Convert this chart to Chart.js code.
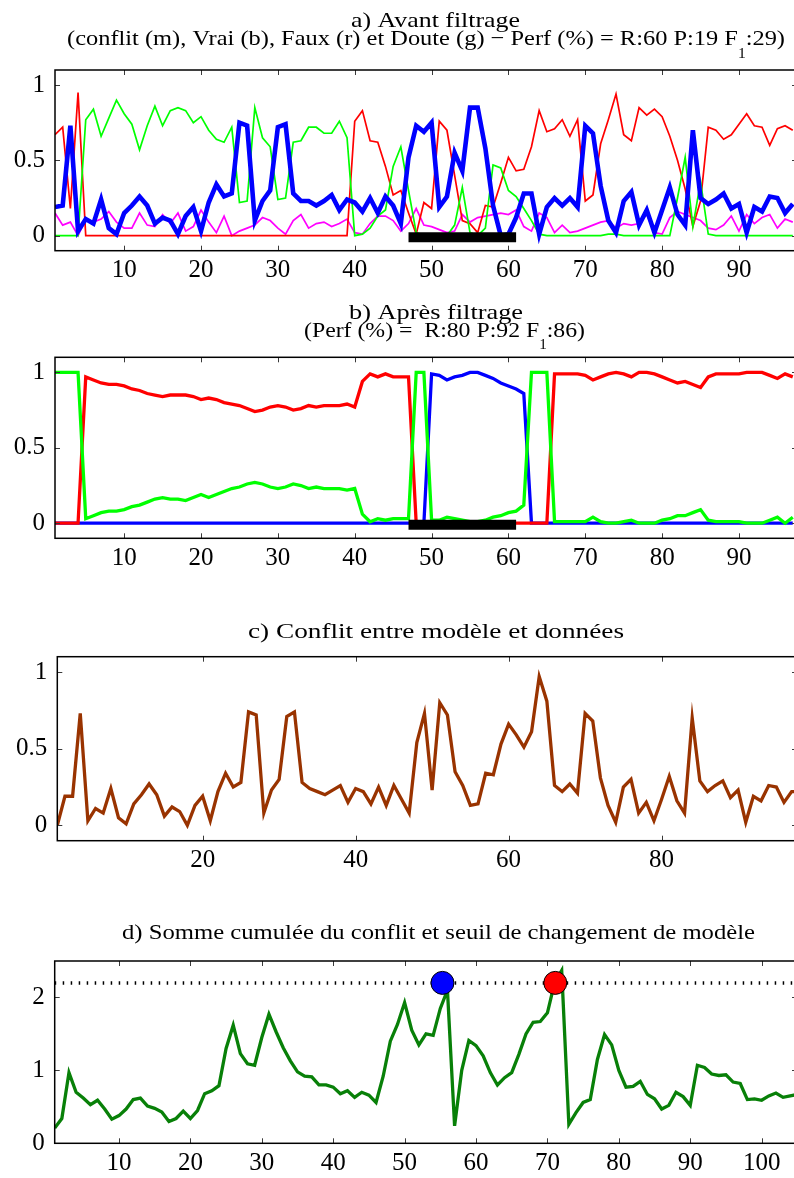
<!DOCTYPE html>
<html><head><meta charset="utf-8">
<script src="https://cdn.jsdelivr.net/npm/chart.js@4.4.1/dist/chart.umd.min.js"></script>
<style>
html,body{margin:0;padding:0;background:#fff;overflow:hidden;width:794px;height:1178px;}
#wrap{position:relative;width:794px;height:1178px;overflow:hidden;background:#fff;}
canvas{position:absolute;left:0;}
</style></head><body><div id="wrap">
<canvas id="ca" width="800" height="300" style="top:0px;width:800px;height:300px"></canvas>
<canvas id="cb" width="800" height="290" style="top:300px;width:800px;height:290px"></canvas>
<canvas id="cc" width="800" height="295" style="top:590px;width:800px;height:295px"></canvas>
<canvas id="cd" width="800" height="293" style="top:885px;width:800px;height:293px"></canvas>
</div>
<script>
// ---------- DATA ----------
// Panel a) Avant filtrage (x = 1..97)
const blueA = [0.19,0.20,0.73,0.03,0.11,0.08,0.24,0.05,0.01,0.15,0.20,0.26,0.20,0.08,0.12,0.10,0.01,0.13,0.19,0.03,
  0.22,0.34,0.26,0.28,0.75,0.73,0.10,0.23,0.30,0.72,0.74,0.28,0.23,0.23,0.20,0.23,0.27,0.17,0.24,0.22,
  0.16,0.25,0.15,0.26,0.20,0.08,0.52,0.73,0.69,0.75,0.19,0.26,0.55,0.43,0.85,0.85,0.58,0.20,0.00,0.01,
  0.12,0.28,0.28,0.01,0.19,0.25,0.20,0.25,0.19,0.73,0.68,0.33,0.10,0.02,0.23,0.29,0.07,0.17,0.02,0.17,
  0.32,0.14,0.07,0.70,0.25,0.21,0.24,0.28,0.18,0.21,0.02,0.19,0.16,0.26,0.25,0.15,0.21];
const redA = [0.67,0.72,0.18,0.95,0,0,0,0,0,0,0,0,0,0,0,0,0,0,0,0,
  0,0,0,0,0,0,0,0,0,0,0,0,0,0,0,0,0,0,0,0.76,
  0.83,0.63,0.62,0.46,0.27,0.30,0.15,0.01,0.22,0.18,0.76,0.70,0.40,0.10,0.08,0.02,0.20,0.19,0.35,0.52,
  0.43,0.44,0.59,0.83,0.69,0.71,0.77,0.66,0.77,0.23,0.27,0.61,0.77,0.94,0.67,0.63,0.85,0.80,0.84,0.79,
  0.66,0.50,0.31,0.06,0.23,0.72,0.70,0.64,0.67,0.74,0.81,0.73,0.72,0.60,0.71,0.73,0.70];
const greenA = [0,0,0,0,0.77,0.84,0.66,0.78,0.90,0.81,0.74,0.57,0.73,0.86,0.73,0.83,0.85,0.83,0.75,0.79,
  0.70,0.64,0.62,0.72,0.22,0.23,0.85,0.65,0.59,0.24,0.25,0.62,0.63,0.72,0.72,0.68,0.68,0.76,0.65,0.00,
  0.01,0.05,0.13,0.17,0.46,0.59,0.30,0.02,0,0,0,0,0.07,0.32,0.02,0,0.05,0.47,0.45,0.30,
  0.26,0.18,0.10,0.01,0,0,0,0,0,0,0,0,0.01,0.01,0,0,0,0,0,0,
  0,0.25,0.52,0.06,0.36,0.01,0,0,0,0,0,0,0,0,0,0,0];
const magentaA = [0.15,0.07,0.09,0.00,0.11,0.09,0.11,0.16,0.09,0.05,0.05,0.15,0.07,0.06,0.14,0.08,0.15,0.03,0.06,0.17,
  0.09,0.02,0.13,0.00,0.03,0.05,0.07,0.12,0.10,0.05,0.01,0.10,0.14,0.05,0.08,0.09,0.06,0.08,0.11,0.02,
  0.01,0.08,0.13,0.13,0.10,0.03,0.08,0.18,0.07,0.06,0.04,0.02,0.03,0.14,0.09,0.12,0.13,0.14,0.15,0.14,
  0.17,0.06,0.03,0.15,0.12,0.02,0.07,0.02,0.03,0.05,0.07,0.09,0.10,0.05,0.08,0.07,0.08,0.14,0.02,0.01,
  0.12,0.16,0.14,0.12,0.10,0.05,0.04,0.07,0.13,0.03,0.14,0.08,0.12,0.14,0.05,0.11,0.09];
// Reference segment (black bar)
const segX = [47, 61];
const segY = [-0.01, -0.01];

// Panel b) Après filtrage
const redB = [0,0,0,0,0.97,0.95,0.93,0.92,0.92,0.91,0.89,0.88,0.86,0.85,0.84,0.85,0.85,0.85,0.84,0.82,
  0.83,0.82,0.80,0.79,0.78,0.76,0.74,0.75,0.77,0.78,0.77,0.75,0.76,0.78,0.77,0.78,0.78,0.78,0.79,0.77,
  0.94,0.99,0.97,0.99,0.97,0.97,0.97,0,0,0,0,0,0,0,0,0,0,0,0,0,
  0,0,0,0,0,0.99,0.99,0.99,0.99,0.98,0.95,0.97,0.99,1.00,0.99,0.97,1.00,1.00,0.99,0.97,
  0.95,0.93,0.94,0.92,0.90,0.97,0.99,0.99,0.99,0.99,1.00,1.00,1.00,0.98,0.96,0.99,0.97];
const greenB = [1,1,1,1,0.03,0.05,0.07,0.08,0.08,0.09,0.11,0.12,0.14,0.16,0.17,0.16,0.16,0.15,0.17,0.19,
  0.17,0.19,0.21,0.23,0.24,0.26,0.27,0.26,0.24,0.23,0.24,0.26,0.25,0.23,0.24,0.23,0.23,0.23,0.22,0.23,
  0.06,0.01,0.03,0.02,0.03,0.03,0.03,1,1,0.02,0.02,0.04,0.03,0.02,0.01,0.01,0.02,0.04,0.05,0.07,
  0.08,0.12,1,1,1,0.01,0.01,0.01,0.01,0.01,0.04,0.01,0,0,0.01,0.02,0,0,0,0.02,
  0.03,0.05,0.05,0.07,0.09,0.02,0.01,0.01,0.01,0.01,0,0,0,0.02,0.04,0,0.04];
const blueB = [0,0,0,0,0,0,0,0,0,0,0,0,0,0,0,0,0,0,0,0,
  0,0,0,0,0,0,0,0,0,0,0,0,0,0,0,0,0,0,0,0,
  0,0,0,0,0,0,0,0,0,0.99,0.98,0.95,0.97,0.98,1.00,1.00,0.98,0.96,0.93,0.91,
  0.89,0.86,0,0,0,0,0,0,0,0,0,0,0,0,0,0,0,0,0,0,
  0,0,0,0,0,0,0,0,0,0,0,0,0,0,0,0,0];

// Panel c) Conflit entre modèle et données
const conflictC = [0.00,0.19,0.19,0.73,0.03,0.11,0.08,0.24,0.05,0.01,0.14,0.20,0.27,0.20,0.06,0.12,0.09,0.00,0.13,0.19,
  0.03,0.22,0.34,0.25,0.28,0.74,0.72,0.08,0.23,0.30,0.71,0.74,0.28,0.24,0.22,0.20,0.23,0.26,0.15,0.24,
  0.22,0.14,0.25,0.13,0.26,0.17,0.08,0.54,0.73,0.23,0.80,0.72,0.35,0.26,0.13,0.14,0.34,0.33,0.53,0.66,
  0.59,0.51,0.61,0.97,0.81,0.26,0.22,0.27,0.21,0.73,0.68,0.31,0.13,0.02,0.25,0.30,0.08,0.15,0.03,0.17,
  0.32,0.16,0.08,0.70,0.29,0.22,0.26,0.29,0.18,0.23,0.02,0.19,0.16,0.26,0.25,0.15,0.22,0.22];

// Panel d) Somme cumulée du conflit
const cumD = [0.21,0.34,0.97,0.70,0.62,0.53,0.59,0.47,0.33,0.38,0.47,0.60,0.62,0.51,0.48,0.43,0.30,0.34,0.44,0.34,
  0.45,0.68,0.72,0.79,1.30,1.62,1.23,1.09,1.07,1.45,1.77,1.53,1.31,1.13,0.98,0.92,0.91,0.80,0.80,0.77,
  0.68,0.72,0.63,0.70,0.66,0.56,0.92,1.40,1.63,1.93,1.55,1.35,1.50,1.48,1.85,2.10,0.24,1.00,1.41,1.34,
  1.20,0.97,0.80,0.90,0.97,1.22,1.50,1.66,1.67,1.79,2.20,2.37,0.26,0.42,0.56,0.60,1.15,1.49,1.35,1.00,
  0.77,0.78,0.85,0.67,0.61,0.47,0.52,0.70,0.64,0.52,1.07,1.04,0.95,0.93,0.94,0.84,0.82,0.60,0.61,0.59,
  0.65,0.69,0.63,0.65,0.67];
const threshX = [1, 106];
const threshY = [2.2, 2.2];
const changeX = [55.3, 71.1];
const changeY = [2.2, 2.2];
const changeColors = ['#0000ff', '#ff0000'];

// Tick values / labels
const xTicksAB = [10,20,30,40,50,60,70,80,90];
const xTicksC = [20,40,60,80];
const xTicksD = [10,20,30,40,50,60,70,80,90,100];
const yTicks01 = [0,0.5,1];
const yLabels01 = ['0','0.5','1'];
const yTicksD = [0,1,2];
const yLabelsD = ['0','1','2'];

// ---------- helpers ----------
const FAMILY = "'Liberation Serif','DejaVu Serif',serif";
const idx = arr => arr.map((v,i)=>({x:i+1, y:v}));
const pair = (xs, ys) => xs.map((x,i)=>({x:x, y:ys[i]}));

const framePlugin = {
  id: 'frame',
  afterDraw(chart) {
    const ctx = chart.ctx, a = chart.chartArea, sx = chart.scales.x, sy = chart.scales.y;
    ctx.save();
    ctx.strokeStyle = '#3a3a3a'; ctx.lineWidth = 1;
    ctx.beginPath();
    sx.ticks.forEach(t => {
      const p = Math.round(sx.getPixelForValue(t.value)) + 0.5;
      ctx.moveTo(p, a.bottom); ctx.lineTo(p, a.bottom - 5);
      ctx.moveTo(p, a.top); ctx.lineTo(p, a.top + 5);
    });
    sy.ticks.forEach(t => {
      const p = Math.round(sy.getPixelForValue(t.value)) + 0.5;
      ctx.moveTo(a.left, p); ctx.lineTo(a.left + 5, p);
      ctx.moveTo(a.right, p); ctx.lineTo(a.right - 5, p);
    });
    ctx.stroke();
    ctx.strokeStyle = '#000'; ctx.lineWidth = 1.5;
    ctx.strokeRect(a.left, a.top, a.right - a.left, a.bottom - a.top);
    ctx.restore();
  }
};

const titlePlugin = {
  id: 'ptitle',
  afterDraw(chart, args, opts) {
    const ctx = chart.ctx;
    const size = opts.size || 22, subSize = opts.subSize || 14, subDrop = opts.subDrop || 12.5;
    (opts.lines || []).forEach(line => {
      ctx.save();
      let total = 0;
      const parts = line.parts.map(p => {
        ctx.font = (p.sub ? subSize : size) + 'px ' + FAMILY;
        const w = ctx.measureText(p.t).width; total += w;
        return {t: p.t, sub: p.sub, w: w};
      });
      const k = line.width / total;
      ctx.translate(line.cx - line.width / 2, line.y);
      ctx.scale(k, 1);
      ctx.fillStyle = '#000'; ctx.textBaseline = 'alphabetic'; ctx.textAlign = 'left';
      let xx = 0;
      parts.forEach(p => {
        ctx.font = (p.sub ? subSize : size) + 'px ' + FAMILY;
        ctx.fillText(p.t, xx, p.sub ? subDrop : 0);
        xx += p.w;
      });
      ctx.restore();
    });
  }
};

function lineDs(data, color, width, extra) {
  return Object.assign({data: data, borderColor: color, backgroundColor: color, borderWidth: width,
    pointRadius: 0, tension: 0, fill: false, borderJoinStyle: 'miter'}, extra || {});
}

function noPad(s) { s.paddingLeft = 0; s.paddingRight = 0; s.paddingTop = 0; s.paddingBottom = 0; }

function makeChart(id, g) {
  return new Chart(document.getElementById(id), {
    type: 'line',
    data: {datasets: g.datasets},
    options: {
      responsive: false, maintainAspectRatio: false, animation: false, devicePixelRatio: 1,
      layout: {autoPadding: false, padding: {top: g.padTop, right: 3, left: 0, bottom: 0}},
      plugins: {legend: {display: false}, tooltip: {enabled: false}, title: {display: false},
        ptitle: {lines: g.titles, size: 22, subSize: 14, subDrop: 12.5}},
      scales: {
        x: {type: 'linear', min: g.xMin, max: g.xMax,
          afterBuildTicks: s => { s.ticks = g.xTicks.map(v => ({value: v})); },
          afterFit: s => { s.height = g.bottomH; noPad(s); },
          grid: {display: false, drawTicks: false}, border: {display: false},
          ticks: {padding: 5, color: '#000', font: {family: FAMILY, size: 25}, maxRotation: 0, autoSkip: false,
            callback: v => String(v)}},
        y: {type: 'linear', min: g.yMin, max: g.yMax,
          afterBuildTicks: s => { s.ticks = g.yTicks.map(v => ({value: v})); },
          afterFit: s => { s.width = g.leftW; noPad(s); },
          grid: {display: false, drawTicks: false}, border: {display: false},
          ticks: {padding: 10, color: '#000', font: {family: FAMILY, size: 25}, autoSkip: false,
            callback: (v, i) => g.yLabels[i]}}
      }
    },
    plugins: [framePlugin, titlePlugin]
  });
}

// Panel a
makeChart('ca', {
  padTop: 70, leftW: 55, bottomH: 49.3, xMin: 1, xMax: 97.55, yMin: -0.1, yMax: 1.1,
  xTicks: xTicksAB, yTicks: yTicks01, yLabels: yLabels01,
  titles: [
    {cx: 435.5, y: 27.3, width: 169, parts: [{t: 'a) Avant filtrage'}]},
    {cx: 426, y: 45, width: 718, parts: [{t: '(conflit (m), Vrai (b), Faux (r) et Doute (g) \u2212 Perf (%) = R:60 P:19 F'}, {t: '1', sub: true}, {t: ':29)'}]}
  ],
  datasets: [
    lineDs(pair(segX, segY), '#000000', 10, {borderCapStyle: 'butt'}),
    lineDs(idx(blueA), '#0000ff', 4.6),
    lineDs(idx(greenA), '#00ff00', 1.7),
    lineDs(idx(redA), '#ff0000', 1.7),
    lineDs(idx(magentaA), '#ff00ff', 1.7)
  ]
});

// Panel b
makeChart('cb', {
  padTop: 57.3, leftW: 55, bottomH: 51.7, xMin: 1, xMax: 97.55, yMin: -0.1, yMax: 1.1,
  xTicks: xTicksAB, yTicks: yTicks01, yLabels: yLabels01,
  titles: [
    {cx: 436, y: 19.3, width: 174, parts: [{t: 'b) Apr\u00e8s filtrage'}]},
    {cx: 444.5, y: 36.7, width: 281, parts: [{t: '(Perf (%) =  R:80 P:92 F'}, {t: '1', sub: true}, {t: ':86)'}]}
  ],
  datasets: [
    lineDs(pair(segX, segY), '#000000', 10, {borderCapStyle: 'butt'}),
    lineDs(idx(greenB), '#00ff00', 3.3),
    lineDs(idx(redB), '#ff0000', 3.3),
    lineDs(idx(blueB), '#0000ff', 3.3)
  ]
});

// Panel c
makeChart('cc', {
  padTop: 66.7, leftW: 57.3, bottomH: 44.3, xMin: 1, xMax: 97.7, yMin: -0.1, yMax: 1.1,
  xTicks: xTicksC, yTicks: yTicks01, yLabels: yLabels01,
  titles: [
    {cx: 436, y: 48, width: 376, parts: [{t: 'c) Conflit entre mod\u00e8le et donn\u00e9es'}]}
  ],
  datasets: [
    lineDs(idx(conflictC), '#993300', 3.3)
  ]
});

// Panel d
makeChart('cd', {
  padTop: 76, leftW: 54.7, bottomH: 34.7, xMin: 1, xMax: 104.95, yMin: 0, yMax: 2.5,
  xTicks: xTicksD, yTicks: yTicksD, yLabels: yLabelsD,
  titles: [
    {cx: 438.5, y: 54, width: 633, parts: [{t: 'd) Somme cumul\u00e9e du conflit et seuil de changement de mod\u00e8le'}]}
  ],
  datasets: [
    lineDs(pair(changeX, changeY), '#000000', 1, {showLine: false, pointRadius: 11.5, pointBorderWidth: 1,
      pointBorderColor: '#000', pointBackgroundColor: changeColors}),
    lineDs(idx(cumD), '#088008', 3.3),
    lineDs(pair(threshX, threshY), '#000000', 3.5, {borderDash: [1.5, 6.5], borderCapStyle: 'butt'})
  ]
});
</script>
</body></html>
